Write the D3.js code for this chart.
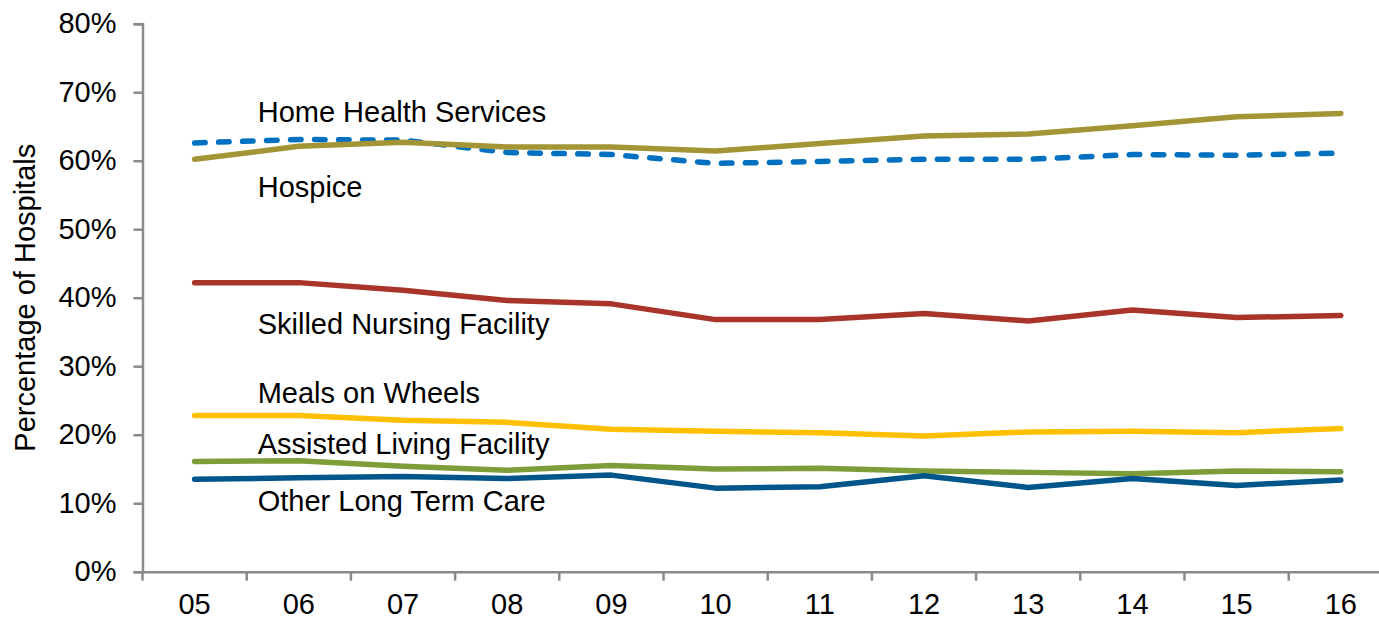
<!DOCTYPE html>
<html>
<head>
<meta charset="utf-8">
<script src="https://cdnjs.cloudflare.com/ajax/libs/d3/7.8.5/d3.min.js"></script>
<style>
    body { margin: 0; background: #fff; }
    svg { display: block; font-family: "Liberation Sans", Arial, sans-serif; }
</style>
</head>
<body>
<svg width="1379" height="620"></svg>
<script>
// years on the x axis
var categories = ["05", "06", "07", "08", "09", "10", "11", "12", "13", "14", "15", "16"];

// percent of hospitals
var homeHealth = [60.2, 62.1, 62.7, 62.0, 62.0, 61.4, 62.5, 63.6, 63.9, 65.1, 66.4, 66.9];
var hospice = [62.6, 63.1, 63.0, 61.2, 60.9, 59.6, 59.9, 60.2, 60.2, 60.9, 60.8, 61.1];
var skilledNursing = [42.2, 42.2, 41.1, 39.6, 39.1, 36.8, 36.8, 37.7, 36.6, 38.2, 37.1, 37.4];
var mealsOnWheels = [22.8, 22.8, 22.1, 21.8, 20.8, 20.5, 20.3, 19.8, 20.4, 20.5, 20.3, 20.9];
var assistedLiving = [16.1, 16.2, 15.4, 14.8, 15.5, 15.0, 15.1, 14.7, 14.5, 14.3, 14.7, 14.6];
var otherLongTerm = [13.5, 13.7, 13.9, 13.6, 14.1, 12.2, 12.4, 14.0, 12.3, 13.6, 12.6, 13.4];

var yTicks = [0, 10, 20, 30, 40, 50, 60, 70, 80];

// label text and where it sits (value it is centred on)
var labelNames = ["Home Health Services", "Hospice", "Skilled Nursing Facility",
    "Meals on Wheels", "Assisted Living Facility", "Other Long Term Care"];
var labelValues = [67.1, 56.2, 36.2, 26.1, 18.6, 10.3];

var series = [
    {name: "Skilled Nursing Facility", values: skilledNursing, color: "#a9352a", dash: null},
    {name: "Meals on Wheels", values: mealsOnWheels, color: "#ffc000", dash: null},
    {name: "Assisted Living Facility", values: assistedLiving, color: "#7d9d38", dash: null},
    {name: "Other Long Term Care", values: otherLongTerm, color: "#00558b", dash: null},
    {name: "Hospice", values: hospice, color: "#0070c0", dash: "10.5,13.5"},
    {name: "Home Health Services", values: homeHealth, color: "#a39535", dash: null}
];

var svg = d3.select("svg"),
    plotLeft = 142.5,
    plotTop = 23.7,
    plotBottom = 571.7,
    bandW = 104.2,
    fontSize = "29px";

var x = d3.scaleBand()
    .domain(categories)
    .range([plotLeft, plotLeft + bandW * categories.length]);

var y = d3.scaleLinear()
    .domain([0, 80])
    .range([plotBottom, plotTop]);

var axisColor = "#8a8a8a";

// y axis
var yAxis = svg.append("g")
    .attr("transform", "translate(" + plotLeft + ",0)")
    .call(d3.axisLeft(y)
        .tickValues(yTicks)
        .tickSize(9)
        .tickPadding(17)
        .tickFormat(function (d) { return d + "%"; }));

yAxis.select(".domain")
    .attr("stroke", axisColor)
    .attr("stroke-width", 2.5);
yAxis.selectAll(".tick line")
    .attr("stroke", axisColor)
    .attr("stroke-width", 2.5);
yAxis.selectAll(".tick text")
    .attr("fill", "#000")
    .style("font-size", fontSize)
    .style("font-family", "Liberation Sans, Arial, sans-serif");

// x axis: labels at band centres, ticks on band edges
var xAxis = svg.append("g")
    .attr("transform", "translate(0," + plotBottom + ")")
    .call(d3.axisBottom(x)
        .tickSize(0)
        .tickPadding(22));

xAxis.select(".domain")
    .attr("stroke", axisColor)
    .attr("stroke-width", 2.5);
xAxis.selectAll(".tick text")
    .attr("fill", "#000")
    .style("font-size", fontSize)
    .style("font-family", "Liberation Sans, Arial, sans-serif");

xAxis.selectAll(".edge")
    .data(categories)
    .enter().append("line")
    .attr("class", "edge")
    .attr("x1", function (d) { return x(d); })
    .attr("x2", function (d) { return x(d); })
    .attr("y1", 0)
    .attr("y2", 9)
    .attr("stroke", axisColor)
    .attr("stroke-width", 2.5);

// y axis title
svg.append("text")
    .attr("transform", "translate(35," + ((plotTop + plotBottom) / 2) + ") rotate(-90)")
    .attr("text-anchor", "middle")
    .style("font-size", fontSize)
    .text("Percentage of Hospitals");

// lines
var line = d3.line()
    .x(function (d, i) { return x(categories[i]) + x.bandwidth() / 2; })
    .y(function (d) { return y(d); });

svg.append("g")
    .selectAll("path")
    .data(series)
    .enter().append("path")
    .attr("d", function (d) { return line(d.values); })
    .attr("fill", "none")
    .attr("stroke", function (d) { return d.color; })
    .attr("stroke-width", 5.5)
    .attr("stroke-linecap", "round")
    .attr("stroke-linejoin", "round")
    .attr("stroke-dasharray", function (d) { return d.dash; });

// series labels
svg.append("g")
    .selectAll("text")
    .data(labelNames)
    .enter().append("text")
    .attr("x", x("06") + 11)
    .attr("y", function (d, i) { return y(labelValues[i]); })
    .attr("dy", "0.35em")
    .style("font-size", fontSize)
    .text(function (d) { return d; });
</script>
</body>
</html>
